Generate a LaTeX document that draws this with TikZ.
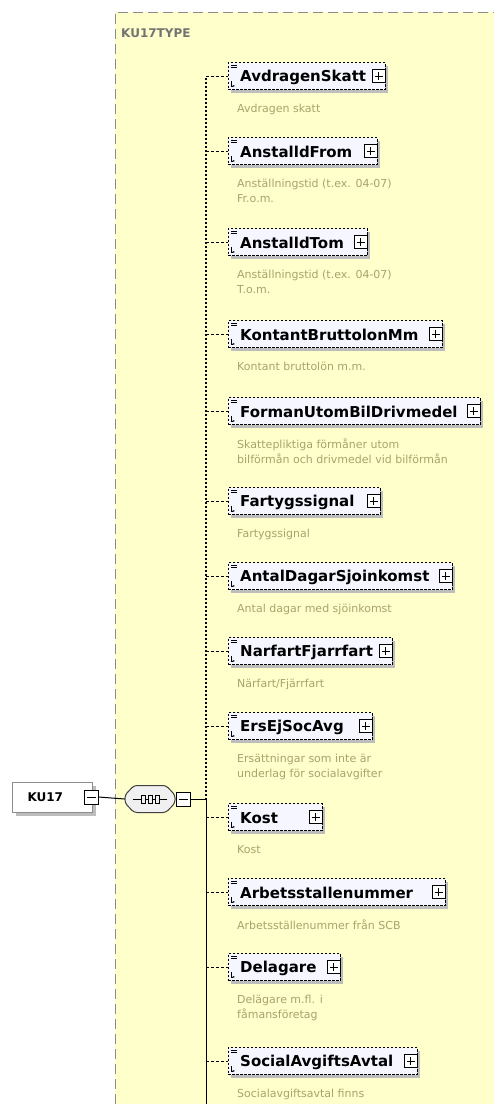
\documentclass[tikz,border=0pt]{standalone}
\usepackage{fontspec}
\setsansfont{DejaVu Sans}
\definecolor{xsdyellow}{HTML}{FFFFCC}
\definecolor{xsdborder}{HTML}{8C8C8C}
\definecolor{xsddesc}{HTML}{A9A36B}
\definecolor{xsdshadow}{HTML}{BDBDBD}
\definecolor{xsdfill}{HTML}{F5F6FF}
\usepackage{tikz}
\usetikzlibrary{arrows.meta,positioning,calc,shadows}

\begin{document}
\begin{tikzpicture}[x=1pt, y=-1pt,
  elem/.style={draw, line width=0.9pt, dash pattern=on 2.5pt off 1.5pt, fill=xsdfill,
    minimum height=27pt, inner sep=0pt, anchor=west,
    drop shadow={shadow xshift=3pt, shadow yshift=-3.5pt, fill=xsdshadow, opacity=1}},
  elemlabel/.style={font=\sffamily\bfseries\fontsize{15}{18}\selectfont, inner sep=0pt, anchor=west},
  desc/.style={font=\sffamily\fontsize{11}{15}\selectfont, text=xsddesc, align=left,
    inner sep=0pt, anchor=north west},
  plusbox/.style={draw, line width=0.9pt, fill=white, minimum size=13pt, inner sep=0pt,
    path picture={\draw[line width=0.9pt]
      ([xshift=2.5pt]path picture bounding box.west) -- ([xshift=-2.5pt]path picture bounding box.east)
      ([yshift=-2.5pt]path picture bounding box.north) -- ([yshift=2.5pt]path picture bounding box.south);}},
  minusbox/.style={draw, line width=0.9pt, fill=white, minimum size=14pt, inner sep=0pt,
    path picture={\draw[line width=0.9pt]
      ([xshift=2.5pt]path picture bounding box.west) -- ([xshift=-2.5pt]path picture bounding box.east);}},
  root/.style={draw=xsdborder, line width=1pt, fill=white, anchor=west, text width=50pt,
    inner xsep=15pt, minimum height=30pt, font=\sffamily\bfseries\fontsize{12}{14}\selectfont,
    drop shadow={shadow xshift=3pt, shadow yshift=-3.5pt, fill=xsdshadow, opacity=1}},
  seq/.style={minimum width=50pt, minimum height=27pt, inner sep=0pt},
  seqshape/.style={rounded corners=3pt, line width=1pt},
  branch/.style={line width=1pt, dash pattern=on 3pt off 2pt},
  spinedot/.style={line width=1.2pt, dash pattern=on 2pt off 2pt},
  conn/.style={line width=1pt},
  glyph/.style={line width=0.8pt}
]
  \useasboundingbox (0,0) rectangle (494,1104);
  \fill[white] (0,0) rectangle (494,1104);

  % complex type area
  \fill[xsdyellow] (115,12) rectangle (494,1104);
  \draw[xsdborder, line width=1pt, dash pattern=on 10pt off 5pt] (115,1104) -- (115,12) -- (494,12);
  \node[font=\sffamily\bfseries\fontsize{12}{14}\selectfont, text=black!55, anchor=west, inner sep=0pt]
    (typename) at (121,33) {KU17TYPE};

  \coordinate (spinetop) at (206,78);
  \coordinate (spinebot) at (206,1104);

  % child elements
  \foreach \nm/\y/\r/\dsc [count=\i] in {
    AvdragenSkatt/77/385/{Avdragen skatt},
    AnstalldFrom/152/377/{Anställningstid (t.ex. 04-07)\\Fr.o.m.},
    AnstalldTom/243/367/{Anställningstid (t.ex. 04-07)\\T.o.m.},
    KontantBruttolonMm/335/442/{Kontant bruttolön m.m.},
    FormanUtomBilDrivmedel/412/480/{Skattepliktiga förmåner utom\\bilförmån och drivmedel vid bilförmån},
    Fartygssignal/502/380/{Fartygssignal},
    AntalDagarSjoinkomst/577/452/{Antal dagar med sjöinkomst},
    NarfartFjarrfart/652/392/{Närfart/Fjärrfart},
    ErsEjSocAvg/727/372/{Ersättningar som inte är\\underlag för socialavgifter},
    Kost/818/322/{Kost},
    Arbetsstallenummer/893/445/{Arbetsställenummer från SCB},
    Delagare/968/340/{Delägare m.fl. i\\fåmansföretag},
    SocialAvgiftsAvtal/1062/417/{Socialavgiftsavtal finns}}{
    \node[elem, minimum width=\r-228] (box\i) at (228,\y-1) {};
    \node[elemlabel] (lbl\i) at ([xshift=12pt,yshift=-1pt]box\i.west) {\nm};
    \node[plusbox] (plus\i) at ([xshift=-7pt]box\i.east) {};
    \node[desc] (desc\i) at ([xshift=9pt,yshift=-14pt]box\i.south west) {\dsc};
    \draw[branch] (box\i.west -| spinetop) -- (box\i.west);
    \draw[glyph] ([shift={(3,3)}]box\i.north west) -- ++(6,0)
      ([shift={(3,5.5)}]box\i.north west) -- ++(6,0);
    \draw[glyph, -{Stealth[length=2.5pt]}] ([shift={(3,-9)}]box\i.south west) -- ++(0,5) -- ++(4,0);
  }

  % root element and sequence
  \node[root] (ku17) at (12,797) {KU17};
  \node[minusbox] (kumin) at ([xshift=-2pt]ku17.east) {};
  \node[seq] (comp) at (150,799) {};
  \fill[xsdshadow, seqshape, shift={(3,3)}] ([shift={(-16,-13.5)}]comp.center) -- ++(32,0) -- ++(9,9.5)
    -- ++(0,8) -- ++(-9,9.5) -- ++(-32,0) -- ++(-9,-9.5) -- ++(0,-8) -- cycle;
  \draw[seqshape, draw=black!75, fill=gray!12] ([shift={(-16,-13.5)}]comp.center) -- ++(32,0) -- ++(9,9.5)
    -- ++(0,8) -- ++(-9,9.5) -- ++(-32,0) -- ++(-9,-9.5) -- ++(0,-8) -- cycle;
  \draw[conn] ([xshift=8pt]comp.west) -- ([xshift=-8pt]comp.east);
  \foreach \dx in {-7,0,7}
    \draw[conn, fill=gray!12] ([shift={(\dx-2,-4)}]comp.center) rectangle ++(4,8);
  \node[minusbox] (compmin) at ([xshift=8pt]comp.east) {};

  \draw[conn] (kumin.east) -- (comp.west);
  \draw[conn] (compmin.east) -- (compmin.east -| spinetop);
  \draw[spinedot] (spinetop) -- (compmin.east -| spinetop);
  \draw[conn] (compmin.east -| spinetop) -- (spinebot);
\end{tikzpicture}
\end{document}
